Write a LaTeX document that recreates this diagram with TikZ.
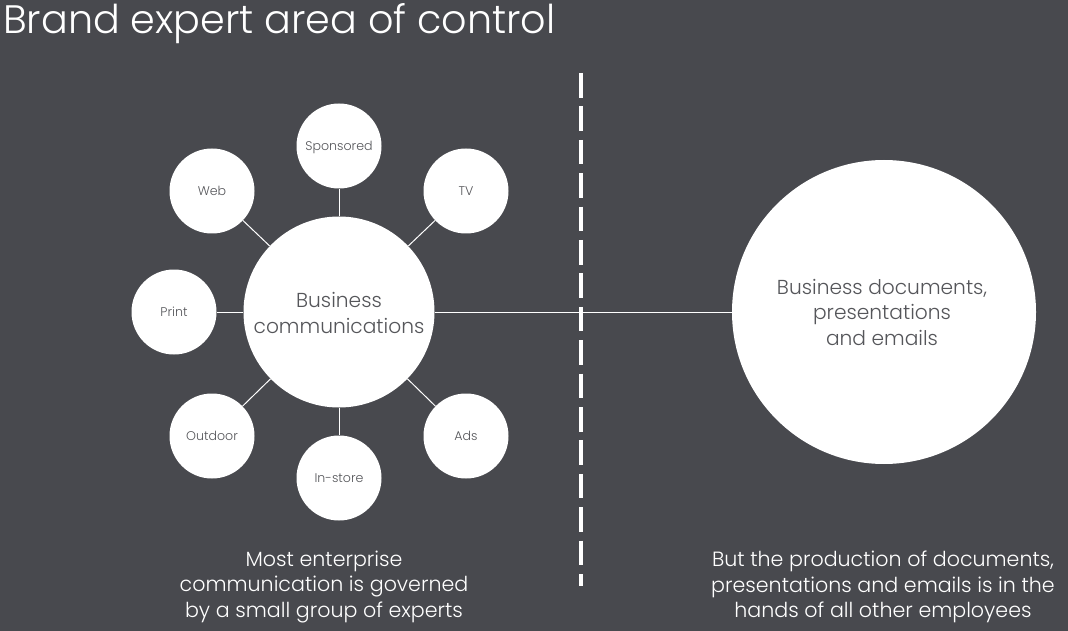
\documentclass[tikz,border=0pt]{standalone}
\usepackage{fontspec}
\setmainfont{Poppins}[UprightFont=* Light]
\definecolor{bgc}{HTML}{48494E}
\definecolor{txc}{HTML}{55565A}
\begin{document}
\begin{tikzpicture}[x=1pt,y=-1pt,
 sat/.style={circle,fill=white,minimum size=85pt,inner sep=0pt,text=txc,font=\fontsize{12.6}{14}\selectfont,text height=10pt,text depth=1pt},
 hub/.style={circle,fill=white,inner sep=0pt},
 hubtxt/.style={text=txc,align=center,inner sep=0pt,font=\fontsize{20.2}{25.5}\selectfont},
 link/.style={draw=white,line width=1pt},
 captxt/.style={text=white,align=center,font=\fontsize{20.6}{25.5}\selectfont}]
\fill[bgc] (0,0) rectangle (1068,631);
\useasboundingbox (0,0) rectangle (1068,631);
\node[anchor=west,text=white,font=\fontsize{39.7}{42}\selectfont,inner sep=0pt] (title) at (3,24) {Brand expert area of control};
\coordinate (ds) at (581,73); \coordinate (de) at (581,586);
\draw[white,line width=3.2pt,dash pattern=on 24.6pt off 8.8pt] (ds) -- (de);
\node[hub,minimum size=191pt] (bc) at (339,312) {};
\node[hub,minimum size=304pt] (bd) at (884,312) {};
\node[sat] (sp) at (339,146) {Sponsored};
\node[sat] (web) at (212,191) {Web};
\node[sat] (tv) at (466,191) {TV};
\node[sat] (pr) at (174,312) {Print};
\node[sat] (ou) at (212,436) {Outdoor};
\node[sat] (ad) at (466,436) {Ads};
\node[sat] (in) at (339,478) {In-store};
\foreach \n in {sp,web,tv,pr,ou,ad,in} \draw[link] (bc) -- (\n);
\draw[link] (bc) -- (bd);
\node[hubtxt] (bct) at (339,313) {Business\\communications};
\node[hubtxt] (bdt) at (882,312) {Business documents,\\presentations\\and emails};
\node[captxt] (c1) at (324,587) {Most enterprise\\communication is governed\\by a small group of experts};
\node[captxt] (c2) at (883,587) {But the production of documents,\\presentations and emails is in the\\hands of all other employees};
\end{tikzpicture}
\end{document}
